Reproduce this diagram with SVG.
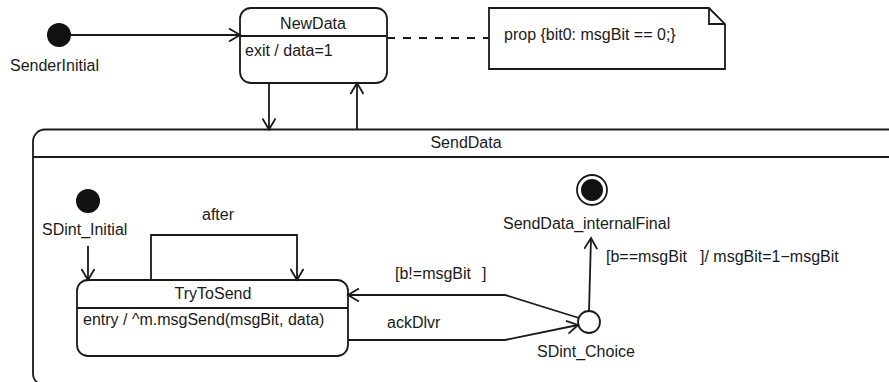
<svg xmlns="http://www.w3.org/2000/svg" width="889" height="382" viewBox="0 0 889 382">
<style>
text{font-family:"Liberation Sans",Arial,sans-serif;font-size:16px;fill:#1a1a1a}
.s{fill:none;stroke:#1a1a1a;stroke-width:1.8}
.b{fill:#fff;stroke:#1a1a1a;stroke-width:1.8}
.c{text-anchor:middle}
</style>
<defs>
<marker id="a" markerUnits="userSpaceOnUse" markerWidth="14" markerHeight="14" viewBox="0 0 12 14" refX="11" refY="7" orient="auto">
<path d="M0,0.5 L11,7 L0,13.5" fill="none" stroke="#1a1a1a" stroke-width="1.8"/>
</marker>
</defs>
<rect width="889" height="382" fill="#fff"/>
<g id="SendData">
<rect class="b" x="33" y="129.5" width="880" height="256" rx="12"/>
<line class="s" x1="33" y1="157" x2="913" y2="157"/>
<text class="c" x="466" y="148">SendData</text>
</g>
<g id="SenderInitial">
<circle cx="59" cy="35" r="12" fill="#111"/>
<text x="10" y="71">SenderInitial</text>
</g>
<g id="NewData">
<rect class="b" x="240" y="8" width="147" height="75" rx="11"/>
<line class="s" x1="240" y1="36" x2="387" y2="36"/>
<text class="c" x="313" y="29">NewData</text>
<text x="245" y="56">exit / data=1</text>
</g>
<g id="Note">
<path class="b" d="M489,8 L709,8 L725,24 L725,69 L489,69 Z"/>
<path class="s" d="M709,8 L709,24 L725,24"/>
<text x="504" y="40">prop {bit0: msgBit == 0;}</text>
</g>
<g id="SDint_Initial">
<circle cx="88" cy="201" r="12" fill="#111"/>
<text x="42" y="235">SDint_Initial</text>
</g>
<g id="TryToSend">
<rect class="b" x="77" y="280" width="271" height="76" rx="11"/>
<line class="s" x1="77" y1="308" x2="348" y2="308"/>
<text class="c" x="213" y="299">TryToSend</text>
<text x="83" y="325">entry / ^m.msgSend(msgBit, data)</text>
</g>
<g id="SendData_internalFinal">
<circle cx="592" cy="190" r="15" fill="#fff" stroke="#1a1a1a" stroke-width="1.8"/>
<circle cx="592" cy="190" r="11" fill="#111"/>
<text x="503" y="229">SendData_internalFinal</text>
</g>
<g id="SDint_Choice">
<circle cx="589" cy="322" r="11" fill="#fff" stroke="#1a1a1a" stroke-width="1.8"/>
<text x="537" y="357">SDint_Choice</text>
</g>
<g id="connectors">
<line class="s" x1="71" y1="35" x2="240" y2="35" marker-end="url(#a)"/>
<line class="s" x1="387" y1="38" x2="489" y2="38" stroke-dasharray="8,8"/>
<line class="s" x1="269" y1="83" x2="269" y2="129.5" marker-end="url(#a)"/>
<line class="s" x1="357" y1="129.5" x2="357" y2="83" marker-end="url(#a)"/>
<line class="s" x1="88" y1="246" x2="88" y2="280" marker-end="url(#a)"/>
<polyline class="s" points="151,280 151,235 297,235 297,280" marker-end="url(#a)"/>
<text x="202" y="220">after</text>
<polyline class="s" points="579,318 505,295 348,295" marker-end="url(#a)"/>
<text x="395" y="279">[b!=msgBit</text>
<text x="482" y="279">]</text>
<polyline class="s" points="348,340 505,340 578,325" marker-end="url(#a)"/>
<text x="387" y="328">ackDlvr</text>
<line class="s" x1="589" y1="311" x2="591" y2="238" marker-end="url(#a)"/>
<text x="606" y="262">[b==msgBit</text>
<text x="700" y="262">]/ msgBit=1−msgBit</text>
</g>
</svg>
